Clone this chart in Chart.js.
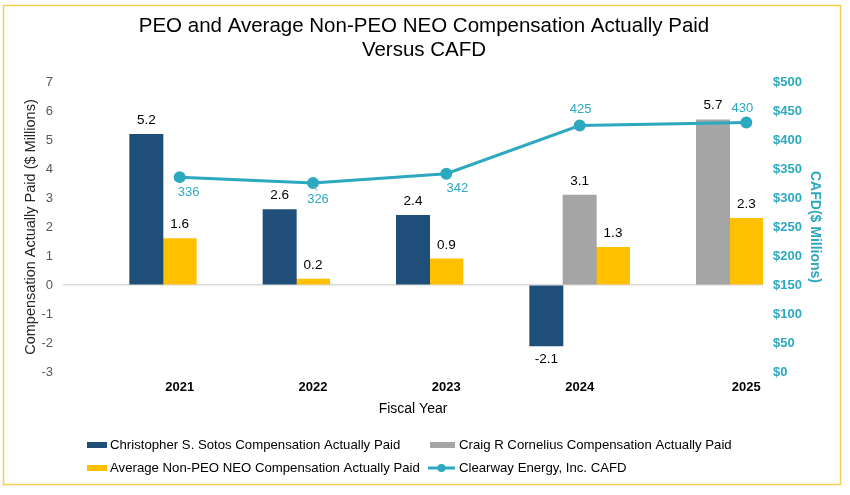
<!DOCTYPE html>
<html>
<head>
<meta charset="utf-8">
<script src="https://cdn.jsdelivr.net/npm/chart.js@4.4.1/dist/chart.umd.min.js"></script>
<style>
html,body{margin:0;padding:0;background:#fff;}
#wrap{width:850px;height:495px;position:relative;}
</style>
</head>
<body>
<div id="wrap"><canvas id="c" width="850" height="495"></canvas></div>
<script>
// ---- data ----
const years = ['2021', '2022', '2023', '2024', '2025'];
const sotosCAP = [5.2, 2.6, 2.4, -2.1, null];
const corneliusCAP = [null, null, null, 3.1, 5.7];
const avgNeoCAP = [1.6, 0.2, 0.9, 1.3, 2.3];
const cafd = [336, 326, 342, 425, 430];
const leftTickValues = [-3, -2, -1, 0, 1, 2, 3, 4, 5, 6, 7];
const rightTickValues = [0, 50, 100, 150, 200, 250, 300, 350, 400, 450, 500];

const seriesNames = {
  sotos: 'Christopher S. Sotos Compensation Actually Paid',
  cornelius: 'Craig R Cornelius Compensation Actually Paid',
  avg: 'Average Non-PEO NEO Compensation Actually Paid',
  cafd: 'Clearway Energy, Inc. CAFD'
};

// ---- layout (bar slots on a fine category axis) ----
const SLOT_COUNT = 21;
const slotLayout = {
  sotos: [2, 6, 10, 14, null],
  cornelius: [null, null, null, 15, 19],
  avg: [3, 7, 11, 16, 20],
  year: [3, 7, 11, 15, 20]
};
function toSlots(values, slots) {
  const a = new Array(SLOT_COUNT).fill(null);
  values.forEach((v, i) => { if (v !== null && slots[i] !== null) a[slots[i]] = v; });
  return a;
}
const slotLabels = Array.from({length: SLOT_COUNT}, (_, i) => {
  const k = slotLayout.year.indexOf(i);
  return k >= 0 ? years[k] : '';
});

const FONT = "'Liberation Sans', Arial, Helvetica, sans-serif";
const C_BLUE = '#1F4E79', C_GRAY = '#A5A5A5', C_GOLD = '#FFC000', C_TEAL = '#2DA9BF';

const lineLabelOffsets = [[9, 15], [5, 16], [11, 15], [1, -16], [-4, -14]];

const labelsPlugin = {
  id: 'valueLabels',
  afterDatasetsDraw(chart) {
    const ctx = chart.ctx;
    ctx.save();
    ctx.textAlign = 'center';
    ctx.textBaseline = 'middle';
    chart.data.datasets.forEach((ds, di) => {
      const meta = chart.getDatasetMeta(di);
      if (ds.type === 'line') {
        ctx.font = '13px ' + FONT;
        ctx.fillStyle = C_TEAL;
        let k = 0;
        meta.data.forEach((el, i) => {
          const v = ds.data[i];
          if (v === null || v === undefined) return;
          const off = lineLabelOffsets[k];
          if (k === 1) {
            ctx.strokeStyle = '#A6A6A6';
            ctx.lineWidth = 1;
            ctx.beginPath();
            ctx.moveTo(el.x + 1, el.y + 3);
            ctx.lineTo(el.x + 4, el.y + 8);
            ctx.stroke();
          }
          ctx.fillText(String(v), el.x + off[0], el.y + off[1]);
          k++;
        });
      } else {
        ctx.font = '13.5px ' + FONT;
        ctx.fillStyle = '#000';
        meta.data.forEach((el, i) => {
          const v = ds.data[i];
          if (v === null || v === undefined) return;
          const y = v >= 0 ? el.y - 14 : el.y + 13;
          ctx.fillText(v.toFixed(1), el.x, y);
        });
      }
    });
    ctx.restore();
  }
};

const frameLegendPlugin = {
  id: 'frameLegend',
  beforeDraw(chart) {
    const ctx = chart.ctx;
    ctx.save();
    ctx.fillStyle = '#fff';
    ctx.fillRect(0, 0, chart.width, chart.height);
    ctx.restore();
  },
  afterDraw(chart) {
    const ctx = chart.ctx;
    ctx.save();
    ctx.strokeStyle = '#F5CF52';
    ctx.lineWidth = 1.5;
    ctx.strokeRect(3.5, 5.5, 837, 479);
    // legend
    const items = [
      {name: seriesNames.sotos, color: C_BLUE, x: 87, y: 445, line: false},
      {name: seriesNames.cornelius, color: C_GRAY, x: 430, y: 445, line: false},
      {name: seriesNames.avg, color: C_GOLD, x: 87, y: 468, line: false},
      {name: seriesNames.cafd, color: C_TEAL, x: 428, y: 468, line: true}
    ];
    ctx.font = '13.2px ' + FONT;
    ctx.textBaseline = 'middle';
    ctx.textAlign = 'left';
    items.forEach(it => {
      if (it.line) {
        ctx.strokeStyle = it.color;
        ctx.lineWidth = 3;
        ctx.beginPath();
        ctx.moveTo(it.x, it.y);
        ctx.lineTo(it.x + 27, it.y);
        ctx.stroke();
        ctx.fillStyle = it.color;
        ctx.beginPath();
        ctx.arc(it.x + 13.5, it.y, 4, 0, Math.PI * 2);
        ctx.fill();
        ctx.fillStyle = '#000';
        ctx.fillText(it.name, it.x + 31, it.y);
      } else {
        ctx.fillStyle = it.color;
        ctx.fillRect(it.x, it.y - 3, it.x === 87 ? 20 : 25, 6);
        ctx.fillStyle = '#000';
        ctx.fillText(it.name, it.x + (it.x === 87 ? 23 : 29), it.y);
      }
    });
    ctx.restore();
  }
};

new Chart(document.getElementById('c'), {
  type: 'bar',
  data: {
    labels: slotLabels,
    datasets: [
      {
        type: 'line', label: seriesNames.cafd,
        data: toSlots(cafd, slotLayout.year),
        yAxisID: 'y1', order: 0, spanGaps: true,
        borderColor: C_TEAL, backgroundColor: C_TEAL, borderWidth: 3,
        pointRadius: 4.5, pointBackgroundColor: C_TEAL, pointBorderColor: C_TEAL,
        tension: 0
      },
      {
        label: seriesNames.sotos, data: toSlots(sotosCAP, slotLayout.sotos),
        backgroundColor: C_BLUE, yAxisID: 'y', order: 1
      },
      {
        label: seriesNames.cornelius, data: toSlots(corneliusCAP, slotLayout.cornelius),
        backgroundColor: C_GRAY, yAxisID: 'y', order: 1
      },
      {
        label: seriesNames.avg, data: toSlots(avgNeoCAP, slotLayout.avg),
        backgroundColor: C_GOLD, yAxisID: 'y', order: 1
      }
    ]
  },
  options: {
    responsive: false,
    animation: false,
    devicePixelRatio: 1,
    datasets: { bar: { barPercentage: 1, categoryPercentage: 1, grouped: false, borderWidth: 0 } },
    layout: { padding: { left: 10, right: 12, top: 0, bottom: 77.6 } },
    plugins: {
      legend: { display: false },
      tooltip: { enabled: false },
      title: {
        display: true,
        text: ['PEO and Average Non-PEO NEO Compensation Actually Paid', 'Versus CAFD'],
        color: '#000',
        font: { family: FONT, size: 20.5, weight: 'normal', lineHeight: 1.171 },
        padding: { top: 14, bottom: 20 }
      }
    },
    scales: {
      x: {
        type: 'category',
        offset: true,
        grid: { display: false, drawTicks: false },
        border: { display: false },
        ticks: {
          autoSkip: false, maxRotation: 0, minRotation: 0, padding: 8,
          color: '#000', font: { family: FONT, size: 13, weight: 'bold' }
        },
        title: {
          display: true, text: 'Fiscal Year', color: '#000',
          font: { family: FONT, size: 14 }, padding: { top: -3, bottom: 0 }
        }
      },
      y: {
        position: 'left', min: -3, max: 7,
        afterBuildTicks(s) { s.ticks = leftTickValues.map(v => ({value: v})); },
        afterFit(s) { s.width = 53; },
        grid: {
          drawTicks: false,
          color: c => (c.tick && c.tick.value === 0) ? '#D9D9D9' : 'rgba(0,0,0,0)',
          lineWidth: 1.5
        },
        border: { display: false },
        ticks: { padding: 10, color: '#595959', font: { family: FONT, size: 13 } },
        title: {
          display: true, text: 'Compensation Actually Paid ($ Millions)', color: '#262626',
          font: { family: FONT, size: 14.5 }, padding: { top: 12.3, bottom: 0 }
        }
      },
      y1: {
        position: 'right', min: 0, max: 500,
        afterBuildTicks(s) { s.ticks = rightTickValues.map(v => ({value: v})); },
        afterFit(s) { s.width = 75; },
        grid: { display: false, drawTicks: false },
        border: { display: false },
        ticks: {
          padding: 10, color: C_TEAL, font: { family: FONT, size: 13, weight: 'bold' },
          callback: v => '$' + v
        },
        title: {
          display: true, text: 'CAFD($ Millions)', color: C_TEAL,
          font: { family: FONT, size: 14, weight: 'bold' }, padding: { top: 14.6, bottom: 0 }
        }
      }
    }
  },
  plugins: [labelsPlugin, frameLegendPlugin]
});
</script>
</body>
</html>
